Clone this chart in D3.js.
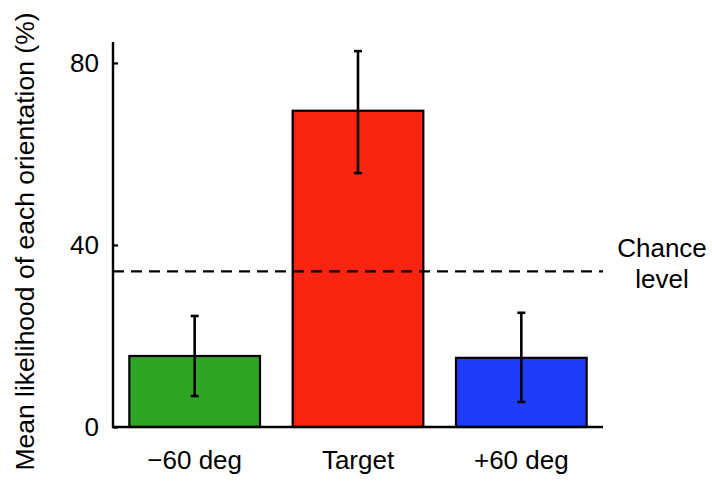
<!DOCTYPE html>
<html>
<head>
<meta charset="utf-8">
<script src="https://cdn.jsdelivr.net/npm/d3@7/dist/d3.min.js"></script>
<style>
  html, body { margin: 0; padding: 0; background: #fff; }
  svg { display: block; font-family: "Liberation Sans", Arial, Helvetica, sans-serif; }
</style>
</head>
<body>
<svg id="chart" width="712" height="482"></svg>
<script>
// Mean likelihood of each decoded orientation, with error bars
const categories = ["\u221260 deg", "Target", "+60 deg"];
const means      = [15.6, 69.5, 15.2];
const errLow     = [6.8, 55.8, 5.5];
const errHigh    = [24.4, 82.6, 25.1];
const barColors  = ["#2ea524", "#fb2411", "#1f3cfb"];
const yTicks     = [0, 40, 80];
const chanceLevel = 34.2;
const yMax = 84.6;

const svg = d3.select("#chart");
const margin = { left: 113, right: 109, top: 42, bottom: 55 };
const W = 712, H = 482;
const x0 = margin.left, x1 = W - margin.right;
const yBottom = H - margin.bottom, yTop = margin.top;

const x = d3.scaleBand().domain(categories).range([x0, x1])
  .paddingInner(0.2).paddingOuter(0.1);
const y = d3.scaleLinear().domain([0, yMax]).range([yBottom, yTop]);

// bars
svg.append("g").selectAll("rect").data(categories).join("rect")
  .attr("x", d => x(d))
  .attr("y", (d, i) => y(means[i]))
  .attr("width", x.bandwidth())
  .attr("height", (d, i) => y(0) - y(means[i]))
  .attr("fill", (d, i) => barColors[i])
  .attr("stroke", "#000")
  .attr("stroke-width", 2.2);

// error bars
const eb = svg.append("g").attr("stroke", "#000").attr("stroke-width", 2.6);
categories.forEach((c, i) => {
  const cx = x(c) + x.bandwidth() / 2;
  eb.append("line").attr("x1", cx).attr("x2", cx)
    .attr("y1", y(errLow[i])).attr("y2", y(errHigh[i]));
  [errLow[i], errHigh[i]].forEach(v => {
    eb.append("line").attr("x1", cx - 4).attr("x2", cx + 4)
      .attr("y1", y(v)).attr("y2", y(v));
  });
});

// chance level
svg.append("line")
  .attr("x1", x0).attr("x2", x1)
  .attr("y1", y(chanceLevel)).attr("y2", y(chanceLevel))
  .attr("stroke", "#000").attr("stroke-width", 2.2)
  .attr("stroke-dasharray", "11,7");

// y axis
const yAxis = d3.axisLeft(y).tickValues(yTicks).tickSize(-5).tickPadding(14);
const gy = svg.append("g").attr("transform", `translate(${x0},0)`).call(yAxis);
gy.select(".domain").remove();
gy.selectAll(".tick line").attr("stroke", "#000").attr("stroke-width", 2.2);
gy.selectAll(".tick text").attr("font-size", 26).attr("fill", "#000")
  .attr("font-family", "Liberation Sans, Arial, sans-serif");

svg.append("line").attr("x1", x0).attr("x2", x0)
  .attr("y1", yTop).attr("y2", yBottom + 1)
  .attr("stroke", "#000").attr("stroke-width", 2.4);

// x axis
const xAxis = d3.axisBottom(x).tickSize(0).tickPadding(24);
const gx = svg.append("g").attr("transform", `translate(0,${yBottom})`).call(xAxis);
gx.select(".domain").remove();
gx.selectAll(".tick text").attr("font-size", 26).attr("fill", "#000")
  .attr("font-family", "Liberation Sans, Arial, sans-serif");
svg.append("line").attr("x1", x0 - 1).attr("x2", x1)
  .attr("y1", yBottom).attr("y2", yBottom)
  .attr("stroke", "#000").attr("stroke-width", 2.4);

// y axis title
svg.append("text")
  .attr("transform", `translate(34,${(yTop + yBottom) / 2 + 7}) rotate(-90)`)
  .attr("text-anchor", "middle")
  .attr("font-size", 26.5)
  .text("Mean likelihood of each orientation (%)");

// chance label
const cl = svg.append("text").attr("text-anchor", "middle").attr("font-size", 26);
cl.append("tspan").attr("x", 662).attr("y", 257).text("Chance");
cl.append("tspan").attr("x", 662).attr("y", 288).text("level");
</script>
</body>
</html>
